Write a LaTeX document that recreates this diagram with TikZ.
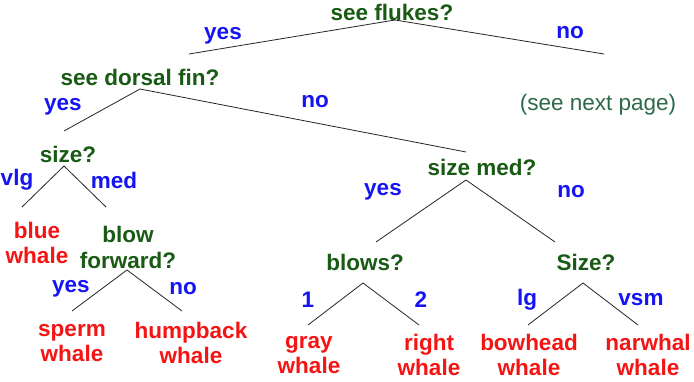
\documentclass[tikz,border=0pt]{standalone}
\usepackage{fontspec}
\setmainfont{Liberation Sans}
\definecolor{qgreen}{RGB}{25,90,20}
\definecolor{ablue}{RGB}{20,20,245}
\definecolor{lred}{RGB}{245,20,20}
\definecolor{note}{RGB}{45,105,75}
\begin{document}
\begin{tikzpicture}[x=1pt,y=-1pt,
  q/.style={text=qgreen,font=\fontsize{22.5}{26}\selectfont\bfseries,inner sep=0pt,align=center},
  ans/.style={text=ablue,font=\fontsize{22.5}{26}\selectfont\bfseries,inner sep=0pt},
  leaf/.style={text=lred,font=\fontsize{22.5}{25}\selectfont\bfseries,inner sep=0pt,align=center},
  edge/.style={draw=black!85,line width=0.8pt}]
\useasboundingbox (0,0) rectangle (694,382);
\fill[white] (0,0) rectangle (694,382);
% questions
\node[q] (flukes) at (392,12) {see flukes?};
\node[q] (dorsal) at (140,77) {see dorsal fin?};
\node[q] (size1) at (68,154) {size?};
\node[q] (blowfwd) at (128,247) {blow\\forward?};
\node[q] (sizemed) at (482,167) {size med?};
\node[q] (blows) at (365,262) {blows?};
\node[q] (size2) at (586,262) {Size?};
\node[text=note,font=\fontsize{22.5}{26}\selectfont,inner sep=0pt] (next) at (598,105) {(see next page)};
% answers
\node[ans] (a1) at (223,36) {yes};
\node[ans] (a2) at (570,33) {no};
\node[ans] (a3) at (63,107) {yes};
\node[ans] (a4) at (315,102) {no};
\node[ans] (a5) at (17,180) {vlg};
\node[ans] (a6) at (114,180) {med};
\node[ans] (a7) at (71,289) {yes};
\node[ans] (a8) at (183,289) {no};
\node[ans] (a9) at (383,192) {yes};
\node[ans] (a10) at (571,192) {no};
\node[ans] (a11) at (308,300) {1};
\node[ans] (a12) at (421,300) {2};
\node[ans] (a13) at (527,300) {lg};
\node[ans] (a14) at (641,300) {vsm};
% leaves
\node[leaf] (blue) at (37,243) {blue\\whale};
\node[leaf] (sperm) at (72,343) {sperm\\whale};
\node[leaf] (hump) at (191,343) {humpback\\whale};
\node[leaf] (gray) at (309,355) {gray\\whale};
\node[leaf] (right) at (429,355) {right\\whale};
\node[leaf] (bow) at (529,355) {bowhead\\whale};
\node[leaf] (narw) at (648,355) {narwhal\\whale};
% connector points
\coordinate (pF) at (395,20);
\coordinate (eFy) at (189,54);
\coordinate (eFn) at (604,54);
\coordinate (pD) at (140,89);
\coordinate (eDy) at (64,131);
\coordinate (eDn) at (466,152);
\coordinate (pS) at (64,166);
\coordinate (eSv) at (22,207);
\coordinate (eSm) at (106,207);
\coordinate (pB) at (127,270);
\coordinate (eBy) at (72,311);
\coordinate (eBn) at (182,311);
\coordinate (pM) at (466,180);
\coordinate (eMy) at (376,242);
\coordinate (eMn) at (555,242);
\coordinate (pW) at (363,283);
\coordinate (eW1) at (308,325);
\coordinate (eW2) at (419,325);
\coordinate (pZ) at (583,283);
\coordinate (eZl) at (528,325);
\coordinate (eZv) at (638,325);
\draw[edge] (eFy) -- (pF) -- (eFn);
\draw[edge] (eDy) -- (pD) -- (eDn);
\draw[edge] (eSv) -- (pS) -- (eSm);
\draw[edge] (eBy) -- (pB) -- (eBn);
\draw[edge] (eMy) -- (pM) -- (eMn);
\draw[edge] (eW1) -- (pW) -- (eW2);
\draw[edge] (eZl) -- (pZ) -- (eZv);
\end{tikzpicture}
\end{document}
